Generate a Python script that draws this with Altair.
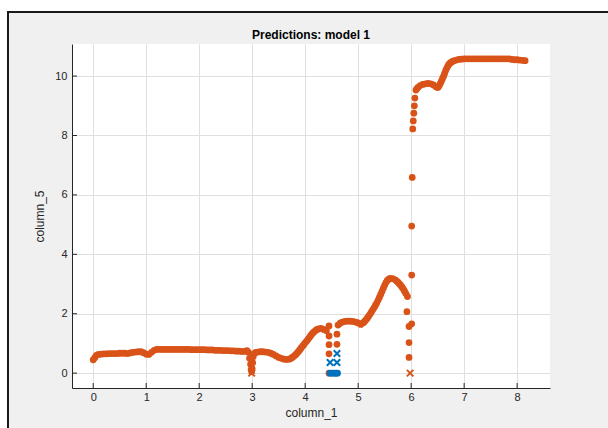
import altair as alt
import pandas as pd

# Predicted response (orange filled markers)
pred_x = [
    0.00, 0.03, 0.06, 0.10, 0.15, 0.20, 0.25, 0.30, 0.35, 0.40, 0.45, 0.50, 0.55, 0.60, 0.65,
    0.70, 0.75, 0.80, 0.85, 0.90, 0.95, 1.00, 1.05, 1.10, 1.15, 1.20, 1.25, 1.30, 1.35, 1.40,
    1.45, 1.50, 1.55, 1.60, 1.65, 1.70, 1.75, 1.80, 1.85, 1.90, 1.95, 2.00, 2.05, 2.10, 2.15,
    2.20, 2.25, 2.30, 2.35, 2.40, 2.45, 2.50, 2.55, 2.60, 2.65, 2.70, 2.75, 2.80, 2.85, 2.90,
    2.93, 2.95, 2.97, 2.98, 2.99, 3.00, 3.01, 3.02, 3.04, 3.07,
    3.10, 3.15, 3.20, 3.25, 3.30, 3.35, 3.40, 3.45, 3.50, 3.55, 3.60, 3.65, 3.70,
    3.725, 3.75, 3.775, 3.80, 3.825, 3.85, 3.875, 3.90, 3.925, 3.95, 3.975, 4.00, 4.025,
    4.05, 4.075, 4.10, 4.125, 4.15, 4.175, 4.20, 4.225, 4.25, 4.30, 4.35, 4.40,
    4.45, 4.45, 4.45, 4.45, 4.45, 4.60, 4.60,
    4.62, 4.66, 4.70, 4.75, 4.80, 4.85, 4.90, 4.95, 5.00, 5.05, 5.10,
    5.125, 5.15, 5.175, 5.20, 5.225, 5.25, 5.275, 5.30, 5.325, 5.35, 5.375, 5.40, 5.425,
    5.45, 5.475, 5.50, 5.525, 5.55, 5.575, 5.60, 5.65, 5.70, 5.725, 5.75, 5.775, 5.80,
    5.825, 5.85, 5.875, 5.90, 5.93,
    5.92, 5.96, 6.01, 5.96, 5.96,
    6.01, 6.01, 6.02, 6.03, 6.04, 6.05, 6.06, 6.07, 6.09,
    6.11, 6.13, 6.17, 6.22, 6.27, 6.32, 6.37, 6.42, 6.47, 6.49, 6.51, 6.53, 6.55, 6.57,
    6.59, 6.61, 6.63, 6.65, 6.67, 6.69, 6.71, 6.73, 6.75, 6.775, 6.80,
    6.85, 6.90, 6.95, 7.00, 7.05, 7.10, 7.15, 7.20, 7.25, 7.30, 7.35, 7.40, 7.45, 7.50, 7.55,
    7.60, 7.65, 7.70, 7.75, 7.80, 7.85, 7.90, 7.95, 8.00, 8.05, 8.10, 8.15,
]
pred_y = [
    0.45, 0.52, 0.60, 0.63, 0.64, 0.65, 0.65, 0.66, 0.66, 0.66, 0.66, 0.67, 0.67, 0.67, 0.66,
    0.68, 0.70, 0.71, 0.72, 0.72, 0.69, 0.64, 0.63, 0.70, 0.77, 0.80, 0.80, 0.80, 0.80, 0.80,
    0.80, 0.80, 0.80, 0.80, 0.80, 0.80, 0.80, 0.80, 0.79, 0.79, 0.79, 0.79, 0.79, 0.79, 0.78,
    0.78, 0.78, 0.77, 0.77, 0.77, 0.76, 0.76, 0.76, 0.75, 0.75, 0.74, 0.74, 0.73, 0.73, 0.76,
    0.70, 0.50, 0.30, 0.12, 0.05, 0.15, 0.35, 0.55, 0.66, 0.70,
    0.71, 0.72, 0.72, 0.71, 0.70, 0.67, 0.63, 0.58, 0.53, 0.50, 0.47, 0.46, 0.47,
    0.49, 0.52, 0.55, 0.59, 0.63, 0.68, 0.73, 0.79, 0.85, 0.91, 0.96, 1.02, 1.07,
    1.13, 1.19, 1.25, 1.31, 1.36, 1.40, 1.44, 1.47, 1.49, 1.51, 1.47, 1.43,
    1.59, 1.25, 0.96, 0.65, 0.00, 1.31, 0.97,
    1.62, 1.68, 1.72, 1.74, 1.75, 1.75, 1.74, 1.72, 1.69, 1.64, 1.70,
    1.75, 1.80, 1.86, 1.92, 1.99, 2.06, 2.13, 2.20, 2.28, 2.36, 2.45, 2.55, 2.65,
    2.75, 2.86, 2.96, 3.05, 3.12, 3.16, 3.19, 3.18, 3.14, 3.10, 3.06, 3.01, 2.96,
    2.90, 2.84, 2.76, 2.68, 2.58,
    2.07, 1.57, 1.66, 1.03, 0.53,
    3.30, 4.95, 6.59, 8.22, 8.49, 8.75, 9.00, 9.26, 9.53,
    9.58, 9.62, 9.68, 9.72, 9.74, 9.75, 9.74, 9.70, 9.64, 9.62, 9.62, 9.68, 9.75, 9.83,
    9.91, 9.99, 10.08, 10.18, 10.26, 10.33, 10.39, 10.43, 10.46, 10.49, 10.51,
    10.54, 10.56, 10.57, 10.58, 10.58, 10.58, 10.58, 10.58, 10.58, 10.58, 10.58, 10.58, 10.58, 10.58, 10.58,
    10.58, 10.58, 10.58, 10.58, 10.58, 10.58, 10.56, 10.55, 10.55, 10.54, 10.53, 10.52,
]

# Predicted response, flagged points (orange crosses)
pred_flag_x = [2.99, 5.98]
pred_flag_y = [0.00, 0.00]

# True response (blue filled markers)
true_x = [4.47, 4.51, 4.55, 4.58, 4.61]
true_y = [0.00, 0.00, 0.00, 0.00, 0.00]

# True response, flagged points (blue crosses)
true_flag_x = [4.47, 4.60, 4.60]
true_flag_y = [0.36, 0.36, 0.66]

x_ticks = [0, 1, 2, 3, 4, 5, 6, 7, 8]
y_ticks = [0, 2, 4, 6, 8, 10]

TITLE = "Predictions: model 1"

ORANGE = "#D95319"
BLUE = "#0072BD"
AXIS = "#262626"
FONT = "Liberation Sans"

W, H = 478, 344
x_scale = alt.Scale(domain=[-0.4, 8.62], nice=False, zero=False)
y_scale = alt.Scale(domain=[-0.5, 11.08], nice=False, zero=False)

x_axis = alt.Axis(values=x_ticks, title="column_1", grid=True, ticks=False, tickSize=0,
                  labelPadding=3, titlePadding=5, format="d")
y_axis = alt.Axis(values=y_ticks, title="column_5", grid=True, ticks=False, tickSize=0,
                  labelPadding=5, titlePadding=8, format="d")

pred_df = pd.DataFrame({"x": pred_x, "y": pred_y})
pred_flag_df = pd.DataFrame({"x": pred_flag_x, "y": pred_flag_y})
true_df = pd.DataFrame({"x": true_x, "y": true_y})
true_flag_df = pd.DataFrame({"x": true_flag_x, "y": true_flag_y})
one = pd.DataFrame({"k": [0]})

X_SHAPE = "M-1,-1L1,1M-1,1L1,-1"
DOT = 46

pred = alt.Chart(pred_df).mark_circle(color=ORANGE, opacity=1, size=DOT).encode(
    x=alt.X("x:Q", scale=x_scale, axis=x_axis),
    y=alt.Y("y:Q", scale=y_scale, axis=y_axis),
)
pred_flag = alt.Chart(pred_flag_df).mark_point(
    shape=X_SHAPE, filled=False, color=ORANGE, strokeWidth=2, size=42, opacity=1
).encode(x=alt.X("x:Q", scale=x_scale), y=alt.Y("y:Q", scale=y_scale))
true = alt.Chart(true_df).mark_circle(color=BLUE, opacity=1, size=DOT).encode(
    x=alt.X("x:Q", scale=x_scale), y=alt.Y("y:Q", scale=y_scale)
)
true_flag = alt.Chart(true_flag_df).mark_point(
    shape=X_SHAPE, filled=False, color=BLUE, strokeWidth=2, size=42, opacity=1
).encode(x=alt.X("x:Q", scale=x_scale), y=alt.Y("y:Q", scale=y_scale))

# inward-pointing tick marks
xt = alt.Chart(pd.DataFrame({"t": x_ticks})).mark_rule(color=AXIS, strokeWidth=1).encode(
    x=alt.X("t:Q", scale=x_scale), y=alt.value(H), y2=alt.value(H - 5)
)
yt = alt.Chart(pd.DataFrame({"t": y_ticks})).mark_rule(color=AXIS, strokeWidth=1).encode(
    y=alt.Y("t:Q", scale=y_scale), x=alt.value(0), x2=alt.value(5)
)

# figure frame: white margin outside, dark border line
left_margin = alt.Chart(one).mark_rect(color="white").encode(
    x=alt.value(-72), x2=alt.value(-64), y=alt.value(-44), y2=alt.value(H + 40)
)
top_margin = alt.Chart(one).mark_rect(color="white").encode(
    x=alt.value(-72), x2=alt.value(W + 58), y=alt.value(-44), y2=alt.value(-32)
)
left_border = alt.Chart(one).mark_rule(color="#1a1a1a", strokeWidth=2).encode(
    x=alt.value(-64), y=alt.value(-33), y2=alt.value(H + 40)
)
top_border = alt.Chart(one).mark_rule(color="#1a1a1a", strokeWidth=2).encode(
    y=alt.value(-32), x=alt.value(-65), x2=alt.value(W + 58)
)

# axes title above the plot
title = alt.Chart(one).mark_text(
    text=TITLE, font=FONT, fontSize=12, fontWeight="bold", color="#000000",
    align="center", baseline="middle",
).encode(x=alt.value(W / 2), y=alt.value(-9))

chart = alt.layer(
    left_margin, top_margin, left_border, top_border, title,
    pred, pred_flag, true, true_flag, xt, yt,
).properties(
    width=W, height=H,
    autosize=alt.AutoSizeParams(type="none"),
    padding={"left": 72, "top": 44, "right": 58, "bottom": 40},
).configure(
    background="#f0f0f0",
).configure_view(
    fill="white", stroke=None,
).configure_axis(
    domainColor=AXIS, domainWidth=1, gridColor="#dfdfdf", gridWidth=1,
    labelFont=FONT, labelFontSize=11, labelColor=AXIS,
    titleFont=FONT, titleFontSize=12, titleColor=AXIS, titleFontWeight="normal",
)

chart.save("out.html", embed_options={"renderer": "svg", "actions": False})
